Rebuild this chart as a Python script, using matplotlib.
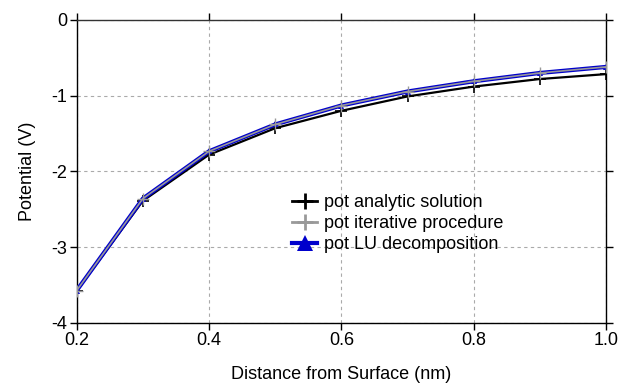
import matplotlib
matplotlib.use("Agg")
import matplotlib.pyplot as plt

plt.rcParams['font.family'] = ['Liberation Sans', 'DejaVu Sans']

x = [0.2, 0.3, 0.4, 0.5, 0.6, 0.7, 0.8, 0.9, 1.0]
pot_analytic = [-3.58, -2.39, -1.78, -1.43, -1.20, -1.01, -0.88, -0.78, -0.715]
pot_iterative = [-3.575, -2.36, -1.735, -1.38, -1.13, -0.945, -0.81, -0.70, -0.62]
pot_lu = [-3.575, -2.36, -1.735, -1.38, -1.13, -0.945, -0.81, -0.70, -0.62]

xticks = [0.2, 0.4, 0.6, 0.8, 1.0]
xticklabels = ['0.2', '0.4', '0.6', '0.8', '1.0']
yticks = [0, -1, -2, -3, -4]
yticklabels = ['0', '-1', '-2', '-3', '-4']

fig = plt.figure(figsize=(6.19, 3.83), dpi=100)
ax = fig.add_axes([76.7/619, 1-322.7/383, (606-76.7)/619, (322.7-20)/383])

ax.plot(x, pot_analytic, color='black', lw=1.6, marker='+', ms=8, mew=1.2,
        label='pot analytic solution', zorder=3)
ax.plot(x, pot_lu, color='#0000cc', lw=3.0, marker='^', ms=5, mew=0,
        label='pot LU decomposition', zorder=4)
ax.plot(x, pot_iterative, color='#999999', lw=1.2, marker='+', ms=8, mew=1.0,
        label='pot iterative procedure', zorder=5)

ax.set_xlim(0.2, 1.0)
ax.set_ylim(-4, 0)
ax.set_xticks(xticks)
ax.set_xticklabels(xticklabels)
ax.set_yticks(yticks)
ax.set_yticklabels(yticklabels)
ax.tick_params(direction='out', length=5, width=1, labelsize=13, pad=2,
               top=True, right=True, labeltop=False, labelright=False)
ax.grid(True, color='#aaaaaa', linestyle=(0, (3, 3)), lw=0.8)
for s in ax.spines.values():
    s.set_linewidth(1.0)
ax.spines['top'].set_color('#333333')

ax.set_xlabel('Distance from Surface (nm)', fontsize=13, labelpad=12)
ax.set_ylabel('Potential (V)', fontsize=13, labelpad=11)

h, l = ax.get_legend_handles_labels()
order = [0, 2, 1]
leg = ax.legend([h[i] for i in order], [l[i] for i in order], loc='upper left',
                bbox_to_anchor=((292-76.7)/(606-76.7), (322.7-194)/(322.7-20)),
                frameon=False, fontsize=13, handlelength=1.4, handletextpad=0.4,
                labelspacing=0.22, borderpad=0, borderaxespad=0)
lh = leg.legend_handles
lh[0].set_markersize(12); lh[0].set_markeredgewidth(2.0); lh[0].set_linewidth(2.0)
lh[1].set_markersize(12); lh[1].set_markeredgewidth(2.0); lh[1].set_linewidth(2.0)
lh[2].set_markersize(11); lh[2].set_linewidth(3.0)

fig.savefig('out.png', dpi=100)
